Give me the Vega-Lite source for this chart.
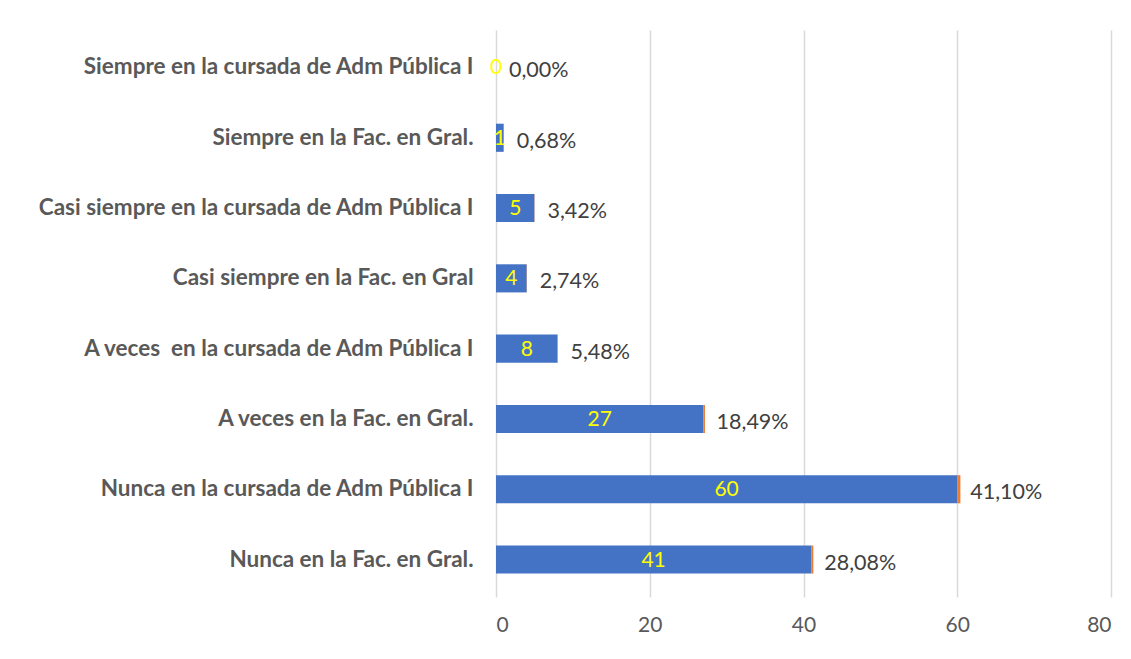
{
  "$schema": "https://vega.github.io/schema/vega-lite/v6.json",
  "width": 615,
  "height": 567,
  "autosize": {"type": "none"},
  "padding": {"left": 496, "top": 30, "right": 20, "bottom": 62},
  "background": "white",
  "config": {"view": {"stroke": null}},
  "data": {
    "values": [
      {"cat": "Siempre en la cursada de Adm Pública I", "n": 0, "p": 0.0, "lbl": "0,00%"},
      {"cat": "Siempre en la Fac. en Gral.", "n": 1, "p": 0.0068, "lbl": "0,68%"},
      {"cat": "Casi siempre en la cursada de Adm Pública I", "n": 5, "p": 0.0342, "lbl": "3,42%"},
      {"cat": "Casi siempre en la Fac. en Gral", "n": 4, "p": 0.0274, "lbl": "2,74%"},
      {"cat": "A veces\u00a0 en la cursada de Adm Pública I", "n": 8, "p": 0.0548, "lbl": "5,48%"},
      {"cat": "A veces en la Fac. en Gral.", "n": 27, "p": 0.1849, "lbl": "18,49%"},
      {"cat": "Nunca en la cursada de Adm Pública I", "n": 60, "p": 0.411, "lbl": "41,10%"},
      {"cat": "Nunca en la Fac. en Gral.", "n": 41, "p": 0.2808, "lbl": "28,08%"}
    ]
  },
  "encoding": {
    "y": {
      "field": "cat",
      "type": "nominal",
      "sort": [
        "Siempre en la cursada de Adm Pública I",
        "Siempre en la Fac. en Gral.",
        "Casi siempre en la cursada de Adm Pública I",
        "Casi siempre en la Fac. en Gral",
        "A veces\u00a0 en la cursada de Adm Pública I",
        "A veces en la Fac. en Gral.",
        "Nunca en la cursada de Adm Pública I",
        "Nunca en la Fac. en Gral."
      ],
      "scale": {"paddingInner": 0.6, "paddingOuter": 0.333},
      "axis": {
        "title": null,
        "ticks": false,
        "domain": false,
        "grid": false,
        "labelFont": "Lato",
        "labelFontWeight": "bold",
        "labelFontSize": 22.5,
        "labelColor": "#595959",
        "labelPadding": 23,
        "labelLimit": 480
      }
    }
  },
  "layer": [
    {
      "transform": [{"fold": ["n", "p"], "as": ["key", "value"]}],
      "mark": {"type": "bar"},
      "encoding": {
        "x": {
          "field": "value",
          "type": "quantitative",
          "stack": "zero",
          "scale": {"domain": [0, 80], "nice": false},
          "axis": {
            "title": null,
            "values": [0, 20, 40, 60, 80],
            "grid": true,
            "gridColor": "#D9D9D9",
            "gridWidth": 1.5,
            "ticks": false,
            "domain": false,
            "labelFont": "Lato",
            "labelFontSize": 21,
            "labelColor": "#595959",
            "labelPadding": 17
          }
        },
        "color": {
          "field": "key",
          "type": "nominal",
          "scale": {"domain": ["n", "p"], "range": ["#4472C4", "#ED7D31"]},
          "legend": null
        },
        "order": {"field": "key", "type": "nominal", "sort": "ascending"}
      }
    },
    {
      "mark": {"type": "text", "font": "Lato", "fontSize": 21, "color": "#FFFF00", "align": "center", "baseline": "middle", "dy": 1},
      "encoding": {
        "x": {"field": "n", "type": "quantitative", "stack": "zero", "bandPosition": 0.5},
        "text": {"field": "n", "type": "quantitative"}
      }
    },
    {
      "mark": {"type": "text", "font": "Lato", "fontSize": 21.5, "color": "#404040", "align": "left", "baseline": "middle", "dx": 13, "dy": 4},
      "encoding": {
        "x": {"field": "n", "type": "quantitative"},
        "text": {"field": "lbl", "type": "nominal"}
      }
    }
  ]
}
